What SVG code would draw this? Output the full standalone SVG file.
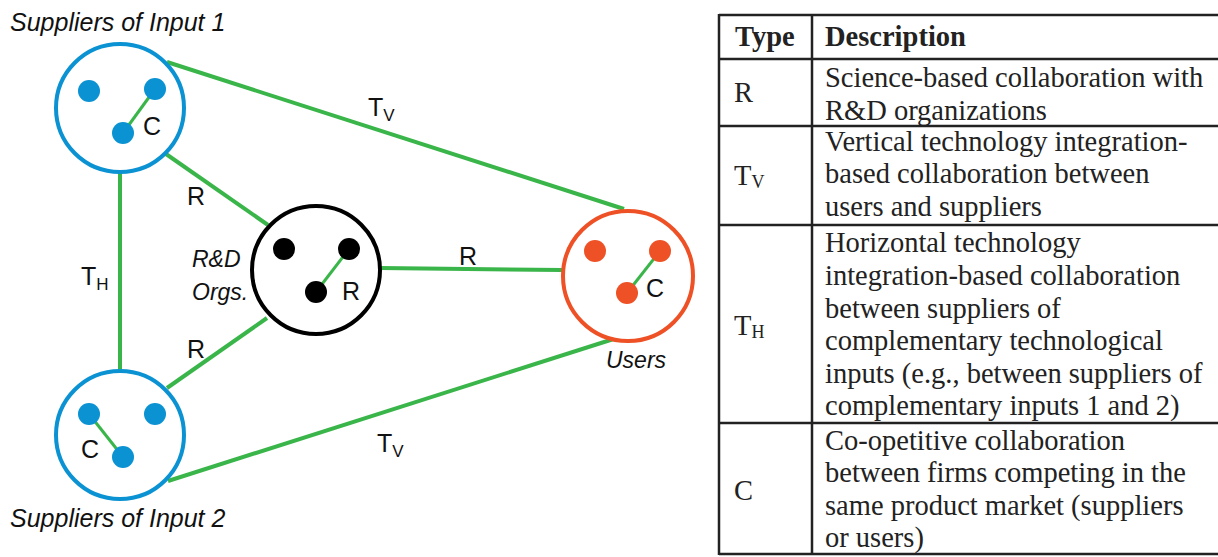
<svg xmlns="http://www.w3.org/2000/svg" width="1218" height="557" viewBox="0 0 1218 557">
<style>
.edge{stroke:#3ab54a;stroke-width:4;fill:none;stroke-linecap:butt}
.inner{stroke:#3ab54a;stroke-width:3;fill:none}
.sup{fill:#fff;stroke:#0b92d2;stroke-width:4}
.supdot{fill:#0b92d2}
.rd{fill:#fff;stroke:#000;stroke-width:4}
.rddot{fill:#000}
.usr{fill:#fff;stroke:#ee5125;stroke-width:4}
.usrdot{fill:#ee5125}
.lbl{font-family:"Liberation Sans",Arial,sans-serif;font-size:25px;fill:#111}
.title{font-family:"Liberation Sans",Arial,sans-serif;font-size:25px;font-style:italic;fill:#111}
.ital{font-family:"Liberation Sans",Arial,sans-serif;font-size:23px;font-style:italic;fill:#111}
.sub{font-size:17px}
.tbl{font-family:"Liberation Serif","Times New Roman",serif;font-size:28.5px;fill:#222}
.hdr{font-weight:bold}
.tline{stroke:#222;stroke-width:2.5;fill:none}
</style>

<g id="connectors">
<line class="edge" x1="167" y1="62" x2="624" y2="209"/>
<line class="edge" x1="166" y1="154" x2="268" y2="225"/>
<line class="edge" x1="120" y1="173" x2="120" y2="370"/>
<line class="edge" x1="167" y1="388" x2="267" y2="318"/>
<line class="edge" x1="380" y1="268" x2="562" y2="270"/>
<line class="edge" x1="168" y1="481" x2="623" y2="336"/>
<text class="lbl" x="368" y="116">T<tspan class="sub" dy="5">V</tspan></text>
<text class="lbl" x="187" y="205">R</text>
<text class="lbl" x="81" y="285">T<tspan class="sub" dy="5">H</tspan></text>
<text class="lbl" x="187" y="358">R</text>
<text class="lbl" x="459" y="265">R</text>
<text class="lbl" x="377" y="452">T<tspan class="sub" dy="5">V</tspan></text>
</g>

<g id="suppliers1">
<text class="title" x="10" y="31">Suppliers of Input 1</text>
<circle class="sup" cx="120" cy="108" r="64"/>
<line class="inner" x1="155" y1="89" x2="123" y2="133"/>
<circle class="supdot" cx="89" cy="91" r="11"/>
<circle class="supdot" cx="155" cy="89" r="11"/>
<circle class="supdot" cx="123" cy="133" r="11"/>
<text class="lbl" x="143" y="135">C</text>
</g>

<g id="suppliers2">
<circle class="sup" cx="120" cy="435" r="64"/>
<line class="inner" x1="89" y1="414" x2="123" y2="457"/>
<circle class="supdot" cx="89" cy="414" r="11"/>
<circle class="supdot" cx="155" cy="414" r="11"/>
<circle class="supdot" cx="123" cy="457" r="11"/>
<text class="lbl" x="81" y="458">C</text>
<text class="title" x="10" y="527">Suppliers of Input 2</text>
</g>

<g id="rd-orgs">
<circle class="rd" cx="316" cy="270" r="64"/>
<line class="inner" x1="349" y1="249" x2="316" y2="292"/>
<circle class="rddot" cx="284" cy="249" r="11"/>
<circle class="rddot" cx="349" cy="249" r="11"/>
<circle class="rddot" cx="316" cy="292" r="11"/>
<text class="lbl" x="342" y="300">R</text>
<text class="ital" x="192" y="267">R&amp;D</text>
<text class="ital" x="192" y="300">Orgs.</text>
</g>

<g id="users">
<circle class="usr" cx="628" cy="276" r="65"/>
<line class="inner" x1="660" y1="251" x2="627" y2="293"/>
<circle class="usrdot" cx="595" cy="251" r="11"/>
<circle class="usrdot" cx="660" cy="251" r="11"/>
<circle class="usrdot" cx="627" cy="293" r="11"/>
<text class="lbl" x="646" y="297">C</text>
<text class="ital" x="606" y="368">Users</text>
</g>

<g id="table">
<line class="tline" x1="719" y1="15" x2="1218" y2="15"/>
<line class="tline" x1="719" y1="59" x2="1218" y2="59"/>
<line class="tline" x1="719" y1="126" x2="1218" y2="126"/>
<line class="tline" x1="719" y1="225" x2="1218" y2="225"/>
<line class="tline" x1="719" y1="423" x2="1218" y2="423"/>
<line class="tline" x1="719" y1="554" x2="1218" y2="554"/>
<line class="tline" x1="719" y1="14" x2="719" y2="555"/>
<line class="tline" x1="812" y1="14" x2="812" y2="555"/>

<text class="tbl hdr" x="735" y="46">Type</text>
<text class="tbl hdr" x="825" y="46">Description</text>

<text class="tbl" x="734" y="102">R</text>
<text class="tbl" x="825" y="87">Science-based collaboration with</text>
<text class="tbl" x="825" y="119.5">R&amp;D organizations</text>

<text class="tbl" x="734" y="185">T<tspan font-size="18" dy="3">V</tspan></text>
<text class="tbl" x="825" y="150.5">Vertical technology integration-</text>
<text class="tbl" x="825" y="183">based collaboration between</text>
<text class="tbl" x="825" y="215.5">users and suppliers</text>

<text class="tbl" x="734" y="335">T<tspan font-size="18" dy="3">H</tspan></text>
<text class="tbl" x="825" y="252">Horizontal technology</text>
<text class="tbl" x="825" y="285">integration-based collaboration</text>
<text class="tbl" x="825" y="318">between suppliers of</text>
<text class="tbl" x="825" y="350">complementary technological</text>
<text class="tbl" x="825" y="383">inputs (e.g., between suppliers of</text>
<text class="tbl" x="825" y="415">complementary inputs 1 and 2)</text>

<text class="tbl" x="734" y="500">C</text>
<text class="tbl" x="825" y="450">Co-opetitive collaboration</text>
<text class="tbl" x="825" y="482">between firms competing in the</text>
<text class="tbl" x="825" y="515">same product market (suppliers</text>
<text class="tbl" x="825" y="547">or users)</text>
</g>
</svg>
